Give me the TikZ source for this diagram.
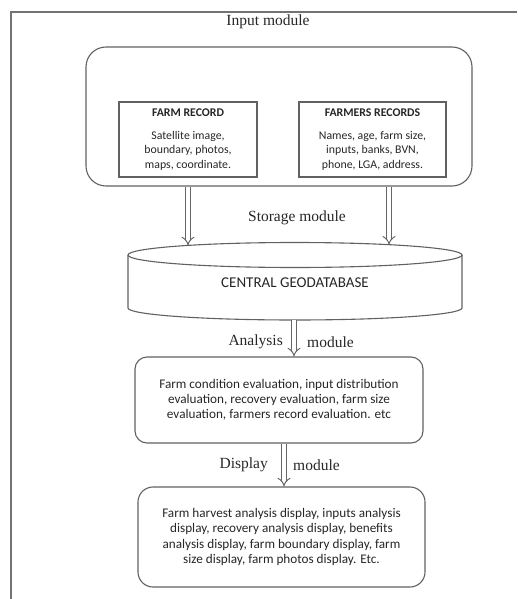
\documentclass[tikz,border=0pt]{standalone}
\usepackage{fontspec}
\setmainfont{Liberation Serif}
\newfontfamily\calfont{Carlito}
\usetikzlibrary{arrows.meta}
\begin{document}
\begin{tikzpicture}[x=1pt,y=1pt,
  line/.style={draw=black!62, line width=1.1pt},
  rbox/.style={line, rounded corners=12pt, inner sep=0pt},
  rec/.style={line, align=center, text=black!85, inner sep=0pt,
    font=\calfont\fontsize{11.8}{14.5}\selectfont},
  lab/.style={font=\fontsize{15.5}{18}\selectfont, text=black!85, inner sep=0pt},
  boxtext/.style={align=center, text=black!85},
  dbl/.style={draw=black!60, line width=1pt, double=white, double distance=3.5pt, -{Implies}}
]
\useasboundingbox (0,0) rectangle (517,-599);
% frame
\draw[draw=black!55, line width=1.1pt] (11,-599) -- (11,-12) -- (517,-12);

% input module
\node[lab] (inlab) at (268,-22) {Input module};
\node[rbox, rounded corners=20pt, minimum width=386pt, minimum height=139pt] (inbox) at (279,-116.5) {};
\node[rec, minimum width=138pt, minimum height=75pt] (farm) at (188,-139.5)
  {\textbf{FARM RECORD}\\[8pt]Satellite image,\\boundary, photos,\\maps, coordinate.};
\node[rec, minimum width=147pt, minimum height=75pt] (farmers) at (372.5,-139.5)
  {\textbf{FARMERS RECORDS}\\[8pt]Names, age, farm size,\\inputs, banks, BVN,\\phone, LGA, address.};

% storage
\node[lab] (stlab) at (297,-218) {Storage module};
\draw[line] (128,-255) -- (128,-308) arc[start angle=180, end angle=360, x radius=167, y radius=12] -- (462,-255);
\draw[line] (295,-255) ellipse[x radius=167, y radius=12.5];
\node[boxtext, font=\calfont\fontsize{15}{18}\selectfont] (db) at (295,-283) {CENTRAL GEODATABASE};
\coordinate (dbtopL) at (188,-245.4);
\coordinate (dbtopR) at (389,-244.7);
\coordinate (dbbot) at (294,-320);

\draw[dbl] ([xshift=-91pt]inbox.south) -- (dbtopL);
\draw[dbl] ([xshift=110pt]inbox.south) -- (dbtopR);

% analysis
\node[rbox, boxtext, minimum width=288pt, minimum height=86pt,
  font=\calfont\fontsize{13.2}{15}\selectfont] (ana) at (279,-400)
  {Farm condition evaluation, input distribution\\evaluation, recovery evaluation, farm size\\evaluation, farmers record evaluation. etc};
\draw[dbl] (dbbot) -- ([xshift=15pt]ana.north);
\node[lab, anchor=east] (alab) at (283,-342) {Analysis};
\node[lab, anchor=west] (amod) at (307,-342) {module};

% display
\node[rbox, rounded corners=15pt, boxtext, minimum width=287pt, minimum height=100pt,
  font=\calfont\fontsize{13.2}{15.3}\selectfont] (disp) at (281.5,-537)
  {Farm harvest analysis display, inputs analysis\\display, recovery analysis display, benefits\\analysis display, farm boundary display, farm\\size display, farm photos display. Etc.};
\draw[dbl] ([xshift=5pt]ana.south) -- ([xshift=2.5pt]disp.north);
\node[lab, anchor=east] (dlab) at (268,-465) {Display};
\node[lab, anchor=west] (dmod) at (293,-465) {module};
\end{tikzpicture}
\end{document}
